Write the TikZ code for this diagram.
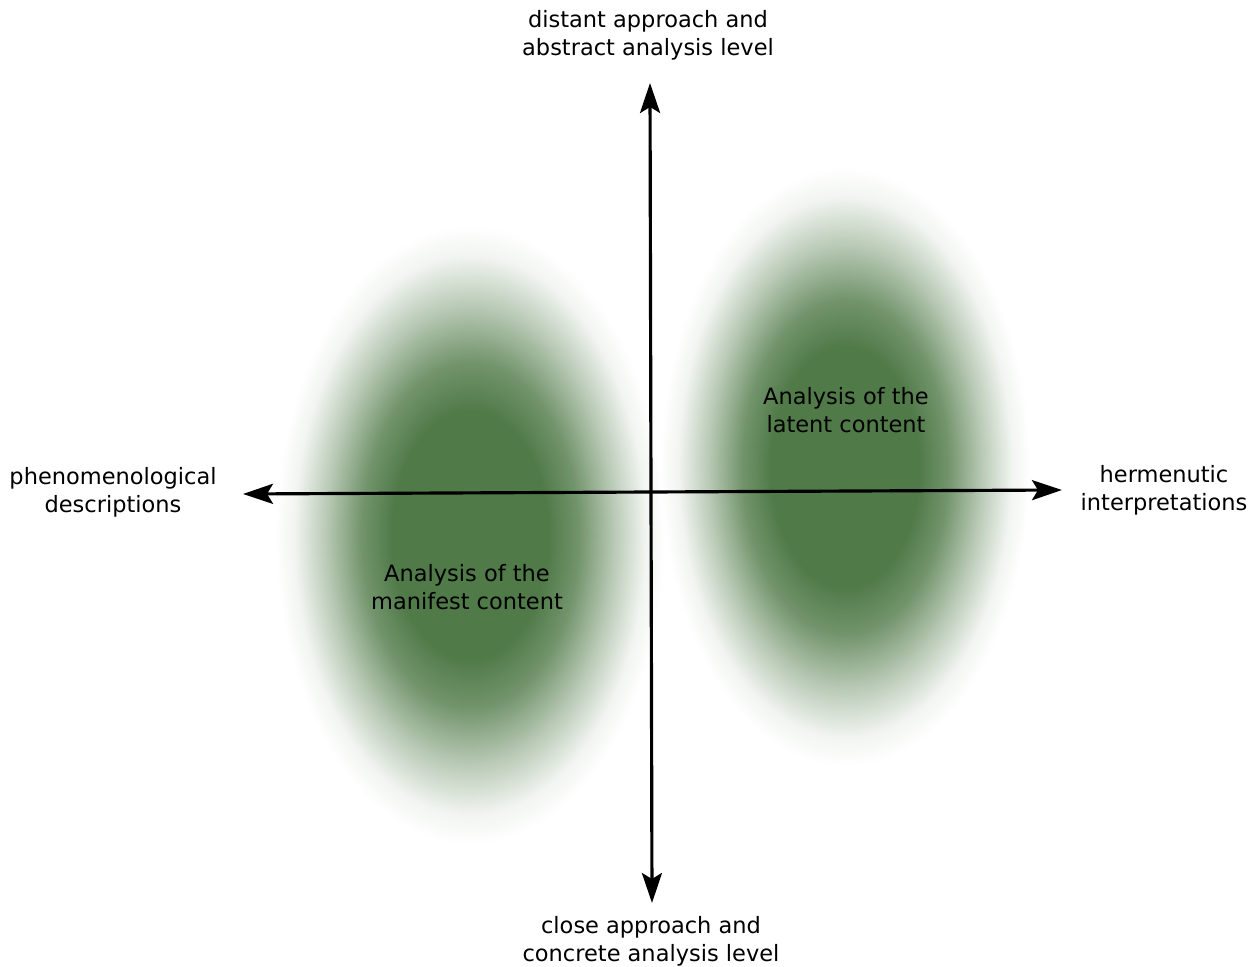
\documentclass[tikz,border=0pt]{standalone}
\usepackage{fontspec}
\setmainfont{DejaVu Sans}
\usetikzlibrary{arrows.meta}
\definecolor{blobgreen}{RGB}{80,122,72}
\pgfdeclareradialshading{blobshade}{\pgfpoint{0bp}{0bp}}{color(0bp)=(blobgreen); color(10bp)=(blobgreen); color(14bp)=(blobgreen!80!white); color(18.5bp)=(blobgreen!40!white); color(22.5bp)=(blobgreen!8!white); color(25bp)=(white); color(50bp)=(white)}
\def\manifestblob{(470,432) ellipse (195 and 310)}
\def\latentblob{(845,500) ellipse (185 and 300)}
\def\pagerect{(0,0) rectangle (1259,967)}
\tikzset{axislabel/.style={align=center, font=\fontsize{12.8}{15.9}\selectfont},
         axisline/.style={line width=1.8pt, {Stealth[length=0.6cm,width=0.4cm,inset=0.12cm]}-{Stealth[length=0.6cm,width=0.4cm,inset=0.12cm]}}}
\begin{document}
\begin{tikzpicture}[x=0.02cm, y=0.02cm]
                        \useasboundingbox \pagerect;
                        \begin{scope}
                          \shade[shading=blobshade] \manifestblob;
                          \shade[shading=blobshade] \latentblob;
                        \end{scope}
                        \coordinate (west)  at (243,473);
                        \coordinate (east)  at (1062,477);
                        \coordinate (north) at (650,884);
                        \coordinate (south) at (652,64);
                        \draw[axisline] (west) -- (east);
                        \draw[axisline] (south) -- (north);
                        \node[axislabel] (distant)  at (648,932)  {distant approach and\\abstract analysis level};
                        \node[axislabel] (close)    at (651,26)   {close approach and\\concrete analysis level};
                        \node[axislabel] (pheno)    at (113,475)  {phenomenological\\descriptions};
                        \node[axislabel] (herm)     at (1164,477) {hermenutic\\interpretations};
                        \node[axislabel] (latent)   at (846,557)  {Analysis of the\\latent content};
                        \node[axislabel] (manifest) at (467,380)  {Analysis of the\\manifest content};
                      \end{tikzpicture}
\end{document}
